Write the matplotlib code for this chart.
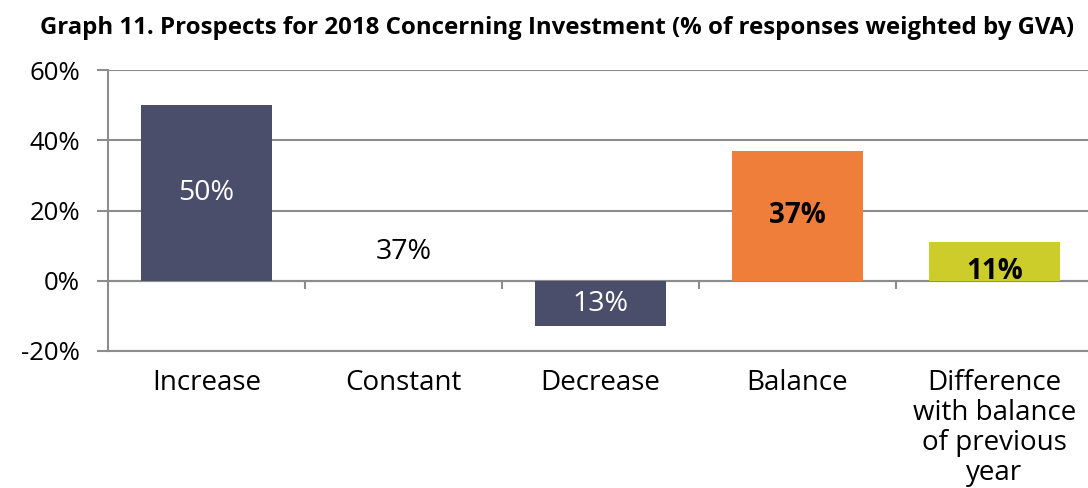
import numpy as np
import matplotlib.pyplot as plt

plt.rcParams['font.family'] = ['Open Sans', 'DejaVu Sans']

# Survey answers, % of responses weighted by GVA
categories = ['Increase', 'Constant', 'Decrease', 'Balance',
              'Difference\nwith balance\nof previous\nyear']
values = [50, 37, -13, 37, 11]
labels = ['50%', '37%', '13%', '37%', '11%']

colors = ['#4a4e6a', 'none', '#4a4e6a', '#ef7e3b', '#cccc2a']
label_colors = ['white', 'black', 'white', 'black', 'black']
label_weights = ['normal', 'normal', 'normal', 'bold', 'bold']
# vertical spot of each value label, as a share of the bar height
label_frac = [0.5, 0.225, 0.5, 0.5, 0.24]

fig = plt.figure(figsize=(10.88, 4.88), dpi=100)
ax = fig.add_axes([108 / 1088, 1 - 351 / 488, 985 / 1088, 281 / 488])

x = np.arange(len(categories))
ax.bar(x, values, width=0.665, color=colors, zorder=3)

for xi, v, lab, c, w, f in zip(x, values, labels, label_colors, label_weights, label_frac):
    ax.text(xi, v * f, lab, ha='center', va='center', color=c,
            fontsize=20.5 if w == 'normal' else 20, fontweight=w, zorder=4)

grid = '#8c8c8c'
ax.set_xlim(-0.5, len(categories) - 0.5)
ax.set_ylim(-20, 60)
ax.set_yticks([-20, 0, 20, 40, 60])
ax.set_yticklabels(['-20%', '0%', '20%', '40%', '60%'])
ax.yaxis.grid(True, color=grid, linewidth=1.5, zorder=1)
ax.tick_params(axis='y', length=8, width=1.5, color=grid, pad=12, labelsize=18.5)

# zero line with small separators between categories
ax.axhline(0, color=grid, linewidth=1.5, zorder=2)
ax.vlines(x[:-1] + 0.5, -2.3, 0, color=grid, linewidth=1.5, zorder=2)

ax.set_xticks(x)
ax.set_xticklabels(categories, fontsize=20, linespacing=1.1, va='top')
ax.tick_params(axis='x', length=0, pad=13)

for side in ['top', 'right']:
    ax.spines[side].set_visible(False)
ax.spines['left'].set_color(grid)
ax.spines['left'].set_linewidth(1.5)
ax.spines['bottom'].set_color(grid)
ax.spines['bottom'].set_linewidth(1.5)

fig.text(0.512, 0.943, 'Graph 11. Prospects for 2018 Concerning Investment (% of responses weighted by GVA)',
         ha='center', va='center', fontsize=17.3, fontweight='bold')

fig.savefig('out.png', dpi=100)
